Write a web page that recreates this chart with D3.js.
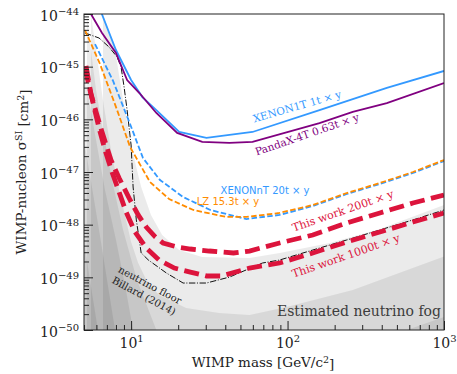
<!DOCTYPE html>
<html>
<head>
<meta charset="utf-8">
<script src="https://cdn.jsdelivr.net/npm/d3@7"></script>
<style>
  body { margin: 0; background: #fff; }
  text { font-family: "DejaVu Serif", serif; }
</style>
</head>
<body>
<div id="chart"></div>
<script>
// ---- data (mass in GeV/c^2, cross section in cm^2) ----
var massXenon1t  = [6.5, 8.0, 10, 11.8, 14.5, 20.3, 30.3, 42.5, 59.7, 160, 431, 1000];
var sigmaXenon1t = [1.0e-44, 2.07e-45, 5.58e-46, 2.65e-46, 1.50e-46, 5.75e-47, 4.43e-47, 5.05e-47, 5.75e-47, 1.50e-46, 3.94e-46, 8.28e-46];

var massPandax  = [5.54, 6.52, 8.0, 9.43, 11.3, 14.5, 19.7, 28.5, 42.5, 59.7, 160, 261, 431, 1000];
var sigmaPandax = [1.0e-44, 4.36e-45, 1.82e-45, 5.58e-46, 3.16e-46, 1.32e-46, 5.51e-47, 3.72e-47, 3.56e-47, 3.72e-47, 8.51e-47, 1.38e-46, 2.04e-46, 4.90e-46];

var massLz  = [5.07, 6.33, 8.01, 9.85, 13.2, 17.5, 25.0, 40.6, 54.6, 88.9, 145, 239, 389, 633, 1000];
var sigmaLz = [4.97e-45, 1.12e-45, 1.71e-46, 2.99e-47, 6.46e-48, 3.07e-48, 1.90e-48, 1.40e-48, 1.40e-48, 1.67e-48, 2.36e-48, 3.99e-48, 6.18e-48, 1.0e-47, 1.69e-47];

var massXenonnt  = [5.88, 7.67, 9.85, 11.9, 15.3, 21.5, 32.1, 54.6, 88.9, 145, 239, 389, 633, 1000];
var sigmaXenonnt = [2.69e-45, 5.35e-46, 8.15e-47, 1.85e-47, 7.05e-48, 3.35e-48, 1.90e-48, 1.28e-48, 1.53e-48, 2.26e-48, 3.82e-48, 5.92e-48, 9.57e-48, 1.62e-47];

var mass200t  = [5.15, 5.54, 5.97, 6.52, 7.44, 8.38, 9.85, 11.1, 12.5, 14.3, 16.0, 19.7, 23.9, 31.6, 45.1, 57.1, 88.9, 145, 239, 389, 633, 1000];
var sigma200t = [1.03e-45, 3.03e-46, 1.38e-46, 5.75e-47, 1.69e-47, 7.69e-48, 2.94e-48, 1.53e-48, 9.03e-49, 5.83e-49, 4.49e-49, 3.77e-49, 3.45e-49, 3.16e-49, 2.90e-49, 3.16e-49, 4.49e-49, 6.37e-49, 1.08e-48, 1.67e-48, 2.58e-48, 3.66e-48];

var mass1000t  = [5.07, 5.46, 6.24, 6.81, 7.55, 8.38, 9.29, 10.6, 12.5, 15.1, 18.9, 23.9, 30.3, 37.8, 57.1, 88.9, 145, 239, 389, 633, 1000];
var sigma1000t = [9.44e-46, 3.61e-46, 6.84e-47, 2.62e-47, 1.0e-47, 4.17e-48, 1.74e-48, 7.26e-49, 3.61e-49, 2.13e-49, 1.50e-49, 1.26e-49, 1.06e-49, 1.06e-49, 1.50e-49, 1.87e-49, 2.90e-49, 4.69e-49, 7.26e-49, 1.12e-48, 1.67e-48];

var massFloor  = [5.07, 6.24, 7.23, 8.13, 8.63, 9.02, 9.43, 10, 10.3, 10.8, 11.6, 12.9, 16.8, 21.5, 30.3, 42.5, 69.1, 88.9, 145, 239, 389, 633, 1000];
var sigmaFloor = [4.36e-45, 3.50e-45, 2.36e-45, 1.53e-45, 9.86e-46, 4.11e-46, 1.50e-46, 3.26e-47, 5.19e-48, 1.23e-48, 2.90e-49, 2.13e-49, 1.21e-49, 7.80e-50, 7.80e-50, 1.01e-49, 1.87e-49, 2.13e-49, 3.30e-49, 5.12e-49, 7.93e-49, 1.23e-48, 1.90e-48];

// neutrino fog contours, outermost first
var massFog1  = [6.61, 7.90, 8.89, 10.15, 11.6, 13.4, 15.8, 20.3, 28.5, 57.1, 88.9, 186, 389, 1000];
var sigmaFog1 = [1.0e-44, 2.07e-45, 2.33e-46, 2.62e-47, 5.19e-48, 1.53e-48, 6.37e-49, 3.30e-49, 2.43e-49, 2.33e-49, 2.90e-49, 4.49e-49, 8.28e-49, 2.36e-48];
var massFog2  = [5.54, 5.97, 6.61, 7.44, 8.38, 9.29, 10, 11.1, 12.7, 15.1, 22.5, 36.6, 57.1, 98.5, 261, 1000];
var sigmaFog2 = [1.0e-44, 2.07e-45, 2.33e-46, 2.62e-47, 4.55e-48, 1.23e-48, 4.69e-49, 1.87e-49, 8.15e-50, 4.62e-50, 2.62e-50, 2.10e-50, 1.93e-50, 2.74e-50, 5.74e-50, 2.5e-49];
var massFog3  = [5.22, 5.54, 5.97, 6.61, 7.55, 8.89, 10.9, 14.5, 18.9, 119, 522, 579, 1000];
var sigmaFog3 = [1.0e-44, 2.07e-45, 3.61e-46, 6.27e-47, 7.05e-48, 7.93e-49, 8.9e-50, 1.0e-50, 2.69e-51, 1.12e-51, 6.46e-51, 1.0e-50, 1.77e-50];
var massFog4  = [4.8, 5.38, 5.97, 6.81, 8.01, 9.15, 10.3, 12.1];
var sigmaFog4 = [1.6e-45, 2.33e-46, 4.06e-47, 4.55e-48, 5.12e-49, 7.15e-50, 1.0e-50, 1.12e-51];
var massFog5  = [4.8, 5.46, 6.24, 7.02, 7.90, 9.02];
var sigmaFog5 = [8.0e-47, 8.77e-48, 7.93e-49, 8.9e-50, 1.0e-50, 1.12e-51];
var massFog6  = [4.8, 5.46, 6.14, 6.81];
var sigmaFog6 = [1.1e-48, 8.9e-50, 1.0e-50, 1.12e-51];

var yTickExp = [-44, -45, -46, -47, -48, -49, -50];
var xTickExp = [1, 2, 3];

// ---- layout ----
var width = 457, height = 374;
var margin = { top: 14, right: 13, bottom: 44, left: 84 };
var innerW = width - margin.left - margin.right,
    innerH = height - margin.top - margin.bottom;

var svg = d3.select("#chart").append("svg")
  .attr("width", width).attr("height", height);

var x = d3.scaleLog().domain([5, 1000]).range([margin.left, margin.left + innerW]);
var y = d3.scaleLog().domain([1e-50, 1e-44]).range([margin.top + innerH, margin.top]);

svg.append("clipPath").attr("id", "plotclip")
  .append("rect")
  .attr("x", margin.left).attr("y", margin.top)
  .attr("width", innerW).attr("height", innerH);

var plot = svg.append("g").attr("clip-path", "url(#plotclip)");

// fog: each contour filled down to the bottom edge, stacked with low opacity
var fogArea = d3.area()
  .x(function (d) { return x(d[0]); })
  .y0(y(1e-50))
  .y1(function (d) { return y(d[1]); });

[[massFog1, sigmaFog1], [massFog2, sigmaFog2], [massFog3, sigmaFog3],
 [massFog4, sigmaFog4], [massFog5, sigmaFog5], [massFog6, sigmaFog6]].forEach(function (c) {
  plot.append("path")
    .datum(d3.zip(c[0], c[1]))
    .attr("fill", "#000")
    .attr("fill-opacity", 0.08)
    .attr("d", fogArea);
});

var line = d3.line()
  .x(function (d) { return x(d[0]); })
  .y(function (d) { return y(d[1]); });

function drawLine(mass, sigma, color, w, dash) {
  plot.append("path")
    .datum(d3.zip(mass, sigma))
    .attr("fill", "none")
    .attr("stroke", color)
    .attr("stroke-width", w)
    .attr("stroke-dasharray", dash)
    .attr("d", line);
}

drawLine(massFloor, sigmaFloor, "#111", 1, "6.4,1.6,1,1.6");
drawLine(massXenon1t, sigmaXenon1t, "#3399ff", 1.8, null);
drawLine(massPandax, sigmaPandax, "#800080", 1.8, null);
drawLine(massXenonnt, sigmaXenonnt, "#3399ff", 1.8, "5.5,2.4");
drawLine(massLz, sigmaLz, "#ff8c00", 1.8, "5.5,2.4");
drawLine(mass200t, sigma200t, "#dc143c", 4.8, "15,6.5");
drawLine(mass1000t, sigma1000t, "#dc143c", 4.8, "15,6.5");

// ---- labels on the plot ----
function label(txt, cx, cy, rot, color, size, family) {
  svg.append("text")
    .attr("transform", "translate(" + cx + "," + cy + ") rotate(" + rot + ")")
    .attr("text-anchor", "middle")
    .attr("dominant-baseline", "central")
    .attr("fill", color)
    .attr("font-size", size)
    .style("font-family", family || null)
    .text(txt);
}
label("XENON1T 1t \u00d7 y", 297, 106, -16, "#3399ff", 10.5);
label("PandaX-4T 0.63t \u00d7 y", 307, 134, -19, "#800080", 10.5);
label("XENONnT 20t \u00d7 y", 265, 190, 0, "#3399ff", 10, "'DejaVu Sans', sans-serif");
label("LZ 15.3t \u00d7 y", 228, 201.5, 0, "#ff8c00", 10, "'DejaVu Sans', sans-serif");
label("This work 200t \u00d7 y", 343, 211, -19, "#dc143c", 11);
label("This work 1000t \u00d7 y", 346, 256, -19, "#dc143c", 11);
label("neutrino floor", 150, 285, 28, "#222", 10);
label("Billard (2014)", 144, 296, 28, "#222", 10);

svg.append("text")
  .attr("x", margin.left + innerW - 3).attr("y", margin.top + innerH - 14)
  .attr("text-anchor", "end")
  .attr("fill", "#3c3c3c")
  .attr("font-size", 14)
  .text("Estimated neutrino fog");

// ---- axes (ticks point inward) ----
var yMinor = [], xMinor = [];
yTickExp.forEach(function (e) {
  for (var k = 2; k <= 9; k++) if (e > -50) yMinor.push(k * Math.pow(10, e - 1));
});
[5, 6, 7, 8, 9, 20, 30, 40, 50, 60, 70, 80, 90, 200, 300, 400, 500, 600, 700, 800, 900]
  .forEach(function (v) { xMinor.push(v); });

function supLabels(g, exps) {
  g.selectAll(".tick text").each(function (d, i) {
    var t = d3.select(this);
    t.text(null);
    t.append("tspan").text("10");
    t.append("tspan").attr("dy", "-0.55em").attr("font-size", "10px")
      .text(String(exps[i]).replace("-", "\u2212"));
  });
}

var yAxis = svg.append("g")
  .attr("transform", "translate(" + margin.left + ",0)")
  .call(d3.axisLeft(y).tickValues(yTickExp.map(function (e) { return Math.pow(10, e); }))
    .tickSizeInner(-9).tickSizeOuter(0).tickPadding(5));
yAxis.selectAll(".tick text").attr("font-size", 14).attr("fill", "#222").attr("dy", "0.45em");
supLabels(yAxis, yTickExp);

svg.append("g")
  .attr("transform", "translate(" + margin.left + ",0)")
  .call(d3.axisLeft(y).tickValues(yMinor).tickSizeInner(-5).tickSizeOuter(0).tickFormat(""));

var xAxis = svg.append("g")
  .attr("transform", "translate(0," + (margin.top + innerH) + ")")
  .call(d3.axisBottom(x).tickValues(xTickExp.map(function (e) { return Math.pow(10, e); }))
    .tickSizeInner(-9).tickSizeOuter(0).tickPadding(8));
xAxis.selectAll(".tick text").attr("font-size", 14).attr("fill", "#222");
supLabels(xAxis, xTickExp);

svg.append("g")
  .attr("transform", "translate(0," + (margin.top + innerH) + ")")
  .call(d3.axisBottom(x).tickValues(xMinor).tickSizeInner(-5).tickSizeOuter(0).tickFormat(""));

svg.selectAll(".domain").remove();
svg.selectAll(".tick line").attr("stroke", "#222");

// frame
svg.append("rect")
  .attr("x", margin.left).attr("y", margin.top)
  .attr("width", innerW).attr("height", innerH)
  .attr("fill", "none").attr("stroke", "#222").attr("stroke-width", 1);

// axis titles
var xt = svg.append("text")
  .attr("x", 263).attr("y", 367)
  .attr("text-anchor", "middle").attr("font-size", 13.5).attr("fill", "#222");
xt.append("tspan").text("WIMP mass [GeV/c");
xt.append("tspan").attr("dy", "-0.45em").attr("font-size", "9.5px").text("2");
xt.append("tspan").attr("dy", "0.45em").text("]");

var yt = svg.append("text")
  .attr("transform", "translate(26,172) rotate(-90)")
  .attr("text-anchor", "middle").attr("font-size", 13.5).attr("fill", "#222");
yt.append("tspan").text("WIMP-nucleon \u03c3");
yt.append("tspan").attr("dy", "-0.45em").attr("font-size", "9.5px").text("SI");
yt.append("tspan").attr("dy", "0.45em").text(" [cm");
yt.append("tspan").attr("dy", "-0.45em").attr("font-size", "9.5px").text("2");
yt.append("tspan").attr("dy", "0.45em").text("]");
</script>
</body>
</html>
